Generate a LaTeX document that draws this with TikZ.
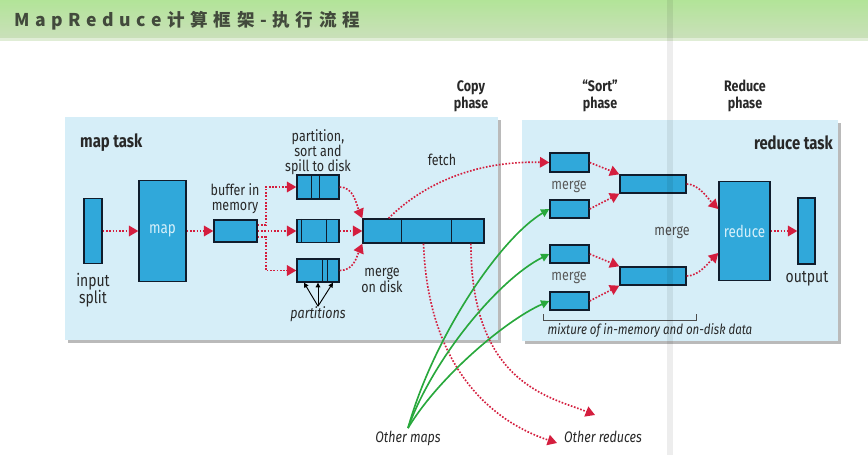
\documentclass[tikz,border=0pt]{standalone}
\usepackage{fontspec}
\setmainfont{Fira Sans}[FakeStretch=0.82]
\newfontfamily\titlefont{Noto Sans CJK SC}[LetterSpace=32]
\usetikzlibrary{arrows.meta,shadows}

\newlength\px
\setlength\px{0.03cm}

\definecolor{hdtop}{RGB}{178,228,152}
\definecolor{hdbot}{RGB}{202,224,186}
\definecolor{hdedge}{RGB}{224,237,214}
\definecolor{titlegray}{RGB}{66,74,60}
\definecolor{taskbg}{RGB}{214,238,248}
\definecolor{boxfill}{RGB}{48,168,218}
\definecolor{boxline}{RGB}{16,28,44}
\definecolor{boxtext}{RGB}{214,240,250}
\definecolor{flowred}{RGB}{212,30,62}
\definecolor{mapgreen}{RGB}{40,168,60}
\definecolor{txt}{RGB}{40,40,40}

\tikzset{
  bar/.style={draw=boxline, line width=1.2pt, fill=boxfill, inner sep=0pt},
  wh/.style 2 args={minimum width=#1\px, minimum height=#2\px},
  lbl/.style={text=txt, align=center, inner sep=0pt, font=\fontsize{13}{12.5}\selectfont},
  biglbl/.style={lbl, font=\fontsize{14.5}{15}\selectfont},
  phase/.style={lbl, font=\bfseries\fontsize{13}{14.5}\selectfont},
  tasklbl/.style={lbl, font=\bfseries\fontsize{15.5}{16}\selectfont},
  itlbl/.style={lbl, font=\itshape\fontsize{13}{13}\selectfont},
  inbox/.style={text=boxtext, font=\fontsize{14}{14}\selectfont},
  flow/.style={->, draw=flowred, line width=1.4pt, dash pattern=on 1.4pt off 1.4pt},
  fromothers/.style={-{Triangle[length=7pt,width=7pt]}, draw=mapgreen, line width=1.4pt},
  part/.style={-{Triangle[length=4pt,width=4pt]}, line width=0.8pt},
  divider/.style={draw=boxline, line width=1.2pt},
}

\begin{document}
\begin{tikzpicture}[x=0.03cm,y=-0.03cm,>={Triangle[length=8pt,width=9pt]}]
   \useasboundingbox (0,0) rectangle (868,455);

   % 标题栏
   \shade[top color=hdtop, bottom color=hdbot] (0,0) rectangle (868,38);
   \fill[hdedge] (0,38) rectangle (868,41);
   \node[anchor=west, text=titlegray, inner sep=0pt,
         font=\titlefont\bfseries\fontsize{15}{15}\selectfont] (title) at (14,21) {MapReduce计算框架-执行流程};

   % 任务框
   \path[fill=taskbg, drop shadow={shadow xshift=2.5pt, shadow yshift=-2.5pt, fill=black!45, opacity=0.6}]
     (65,117) rectangle (498,340);
   \path[fill=taskbg, drop shadow={shadow xshift=2.5pt, shadow yshift=-2.5pt, fill=black!45, opacity=0.6}]
     (522,120) rectangle (838,341);

   \node[tasklbl, anchor=west] (maptask) at (80,143) {map task};
   \node[tasklbl, anchor=east] (redtask) at (833,143) {reduce task};
   \node[phase] (copy) at (471,96) {Copy\\phase};
   \node[phase] (sort) at (600,96) {“Sort”\\phase};
   \node[phase] (redphase) at (745,96) {Reduce\\phase};

   % map 端
   \node[bar, wh={18}{65}] (split) at (93,231) {};
   \node[bar, wh={47}{101}, inbox] (map) at (162.5,231) {map};
   \node[bar, wh={43}{22}] (buf) at (235.5,231) {};
   \node[bar, wh={42}{24}] (p1) at (318,187) {};
   \node[bar, wh={42}{23}] (p2) at (318,231) {};
   \node[bar, wh={42}{23}] (p3) at (318,270.5) {};
   \node[bar, wh={121}{24}] (mrg) at (423.5,231) {};
   \foreach \n/\d in {p1/15,p1/23,p2/5,p2/30,p3/26,p3/31,mrg/39,mrg/89}
     \draw[divider] ([xshift=\d\px]\n.north west) -- ([xshift=\d\px]\n.south west);

   \node[biglbl] (splitlab) at (93,290) {input\\split};
   \node[lbl] (buflab) at (235,199) {buffer in\\memory};
   \node[lbl] (spilllab) at (318,152) {partition,\\sort and\\spill to disk};
   \node[itlbl] (partlab) at (318,314) {partitions};
   \node[lbl] (disklab) at (382,280) {merge\\on disk};
   \node[lbl] (fetchlab) at (442,160) {fetch};

   \draw[flow] (split.east) -- (map.west);
   \draw[flow] (map.east) -- (buf.west);
   \draw[flow] (buf.east) -- (p2.west);
   \draw[flow] (buf.15) -- ++(8,0) |- (p1.west);
   \draw[flow] (buf.-15) -- ++(8,0) |- (p3.west);
   \draw[flow] (p1.east) .. controls +(14,0) and +(-6,-14) .. (mrg.north west);
   \draw[flow] (p2.east) -- (mrg.west);
   \draw[flow] (p3.east) .. controls +(14,0) and +(-6,14) .. (mrg.south west);
   \foreach \d in {-14,0,15}
     \draw[part] (partlab.north) -- ([xshift=\d\px]p3.south);

   % reduce 端
   \node[bar, wh={39}{19}] (m1) at (569.5,162.5) {};
   \node[bar, wh={39}{18}] (m2) at (569.5,209) {};
   \node[bar, wh={39}{18}] (m3) at (569.5,254) {};
   \node[bar, wh={39}{18}] (m4) at (569.5,301) {};
   \node[bar, wh={66}{18}] (t1) at (653,184) {};
   \node[bar, wh={66}{18}] (t2) at (653,276) {};
   \node[bar, wh={51}{99}, inbox] (red) at (744.5,231) {reduce};
   \node[bar, wh={17}{66}] (out) at (806.5,231) {};

   \node[lbl, text=black!65] (mlab1) at (569,187) {merge};
   \node[lbl, text=black!65] (mlab2) at (569,278) {merge};
   \node[lbl, text=black!70] (mlab3) at (672,233) {merge};
   \node[biglbl] (outlab) at (807,279) {output};
   \draw[black!70, line width=0.8pt] (543,314) -- (543,320) -- (696,320) -- (696,314);
   \node[itlbl, font=\itshape\fontsize{12}{12}\selectfont] (mixlab) at (650,331) {mixture of in-memory and on-disk data};

   \draw[flow] (m1.east) -- (t1.north west);
   \draw[flow] (m2.east) -- (t1.south west);
   \draw[flow] (m3.east) -- (t2.north west);
   \draw[flow] (m4.east) -- (t2.south west);
   \draw[flow] (t1.east) .. controls +(12,0) and +(-10,-10) .. (red.140);
   \draw[flow] (t2.east) .. controls +(12,0) and +(-10,10) .. (red.220);
   \draw[flow] (red.east) -- (out.west);

   % copy 阶段
   \draw[flow] (mrg.160) .. controls +(30,-30) and +(-80,-2) .. (m1.west);

   % 其他 map / reduce
   \node[itlbl] (omaps) at (408,438) {Other maps};
   \node[itlbl] (oreds) at (603,437) {Other reduces};
   \coordinate (oredA) at (557,443);
   \coordinate (oredB) at (595,415);
   \draw[flow] (mrg.south) .. controls +(5,130) and +(-60,-20) .. (oredA);
   \draw[flow] (mrg.-15) .. controls +(0,140) and +(-45,-18) .. (oredB);

   \draw[fromothers] ([yshift=2pt]omaps.north) .. controls +(25,-90) and +(-50,30) .. (m2.west);
   \draw[fromothers] ([yshift=2pt]omaps.north) .. controls +(25,-70) and +(-50,25) .. (m3.west);
   \draw[fromothers] ([yshift=2pt]omaps.north) .. controls +(30,-50) and +(-45,20) .. (m4.west);

   % 竖条
   \fill[black, opacity=0.07] (667,0) rectangle (673,455);
\end{tikzpicture}
\end{document}
